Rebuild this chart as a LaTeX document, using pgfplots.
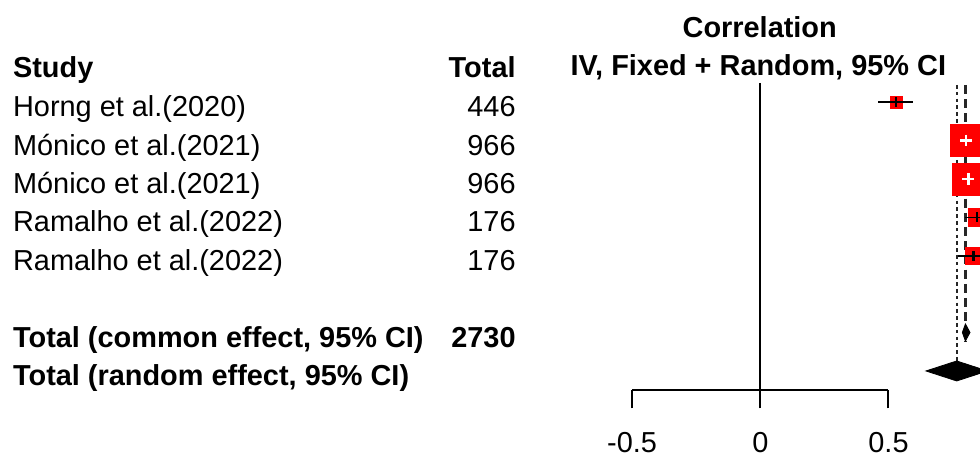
\documentclass[border=0pt]{standalone}
\usepackage{pgfplots}
\pgfplotsset{compat=1.18}
\usepackage{pgfplotstable}
\usepackage{fontspec}
\setmainfont{Liberation Sans}

% studies whose CI is drawn in black (CI wider than box)
\pgfplotstableread{
y     est   lo    hi    ms
102   0.529 0.459 0.595 3.0
217.5 0.844 0.798 0.890 4.4
256   0.831 0.771 0.891 4.1
}\blackci
% studies whose CI lies inside the box (drawn in white)
\pgfplotstableread{
y     est   lo    hi    ms
140.5 0.802 0.779 0.825 8.0
179   0.811 0.788 0.834 8.0
}\whiteci

\begin{document}
\begin{tikzpicture}[font=\fontsize{14.45}{17}\selectfont]
\begin{axis}[
  name=main,
  scale only axis, width=490pt, height=229.5pt,
  xmin=-2.96529, xmax=0.85687,
  ymin=0, ymax=459, y dir=reverse,
  axis lines=none, xtick=\empty, ytick=\empty,
  clip=true, clip marker paths=true,
]
% reference line at 0
\addplot[black, line width=0.85pt] coordinates {(0,83) (0,390)};
% random effect line (dotted)
\addplot[black!85, line width=1.15pt, dash pattern=on 1.8pt off 1.6pt] coordinates {(0.766,85) (0.766,361)};
% common effect line (dashed)
\addplot[black!85, line width=1.1pt, dash pattern=on 4.5pt off 2.6pt] coordinates {(0.80,85) (0.80,341)};

% boxes
\addplot[only marks, mark=square*, scatter, point meta=explicit,
  scatter/use mapped color={draw=red, fill=red},
  visualization depends on={\thisrow{ms}\as\perpointmarksize},
  scatter/@pre marker code/.append style={/tikz/mark size=\perpointmarksize pt}]
  table[x=est, y=y, meta=ms] {\blackci};
\addplot[only marks, mark=square*, scatter, point meta=explicit,
  scatter/use mapped color={draw=red, fill=red},
  visualization depends on={\thisrow{ms}\as\perpointmarksize},
  scatter/@pre marker code/.append style={/tikz/mark size=\perpointmarksize pt}]
  table[x=est, y=y, meta=ms] {\whiteci};

% confidence intervals
\addplot[black, only marks, mark=|, mark size=2.5pt, mark options={line width=1.2pt},
  error bars/.cd, x dir=both, x explicit, error mark=none,
  error bar style={line width=0.95pt, black}]
  table[x=est, y=y, x error plus expr=\thisrow{hi}-\thisrow{est},
        x error minus expr=\thisrow{est}-\thisrow{lo}] {\blackci};
\addplot[white, only marks, mark=|, mark size=2.9pt, mark options={line width=1.3pt, white},
  error bars/.cd, x dir=both, x explicit, error mark=none,
  error bar style={line width=1.3pt, white}]
  table[x=est, y=y, x error plus expr=\thisrow{hi}-\thisrow{est},
        x error minus expr=\thisrow{est}-\thisrow{lo}] {\whiteci};

% summary diamonds
\addplot[fill=black, draw=black, line width=0.4pt] coordinates
  {(0.788,332.5) (0.80,324) (0.818,332.5) (0.80,341)} -- cycle;
\addplot[fill=black, draw=black, line width=0.4pt] coordinates
  {(0.646,371) (0.766,361) (0.886,371) (0.766,381)} -- cycle;

% text columns
\tikzset{every node/.append style={inner sep=0pt}}
\node[anchor=base] at (axis cs:-0.0023,37.3) {\bfseries Correlation};
\node[anchor=base] at (axis cs:-0.0078,75.8) {\bfseries IV, Fixed + Random, 95\% CI};
\node[anchor=base west] at (axis cs:-2.9158,78) {\bfseries Study};
\node[anchor=base east] at (axis cs:-0.9528,78) {\bfseries Total};

\node[anchor=base west] at (axis cs:-2.9158,116.7) {Horng et al.(2020)};
\node[anchor=base west] at (axis cs:-2.9158,155.2) {Mónico et al.(2021)};
\node[anchor=base west] at (axis cs:-2.9158,193.6) {Mónico et al.(2021)};
\node[anchor=base west] at (axis cs:-2.9158,232.0) {Ramalho et al.(2022)};
\node[anchor=base west] at (axis cs:-2.9158,270.5) {Ramalho et al.(2022)};
\node[anchor=base east] at (axis cs:-0.9528,116.7) {446};
\node[anchor=base east] at (axis cs:-0.9528,155.2) {966};
\node[anchor=base east] at (axis cs:-0.9528,193.6) {966};
\node[anchor=base east] at (axis cs:-0.9528,232.0) {176};
\node[anchor=base east] at (axis cs:-0.9528,270.5) {176};

\node[anchor=base west] at (axis cs:-2.9158,347.4) {\bfseries Total (common effect, 95\% CI)};
\node[anchor=base east] at (axis cs:-0.9528,347.4) {\bfseries 2730};
\node[anchor=base west] at (axis cs:-2.9158,385.8) {\bfseries Total (random effect, 95\% CI)};

\coordinate (rulerorigin) at (axis cs:-0.5,390);
\end{axis}

% x axis ruler
\begin{axis}[
  at={(rulerorigin)}, anchor=south west,
  scale only axis, width=128.2pt, height=20pt,
  xmin=-0.5, xmax=0.5, ymin=0, ymax=1,
  axis x line*=bottom, hide y axis,
  x axis line style={line width=1pt, black, -},
  xtick={-0.5,0,0.5}, xticklabels={-0.5,0,0.5},
  tick align=outside, major tick length=9.15pt,
  tick style={line width=1pt, black},
  xticklabel style={anchor=north, inner sep=0pt, yshift=-11.8pt},
]
\addplot[draw=none] coordinates {(0,0)};
\end{axis}

\pgfresetboundingbox
\useasboundingbox (main.south west) rectangle (main.north east);
\end{tikzpicture}
\end{document}
